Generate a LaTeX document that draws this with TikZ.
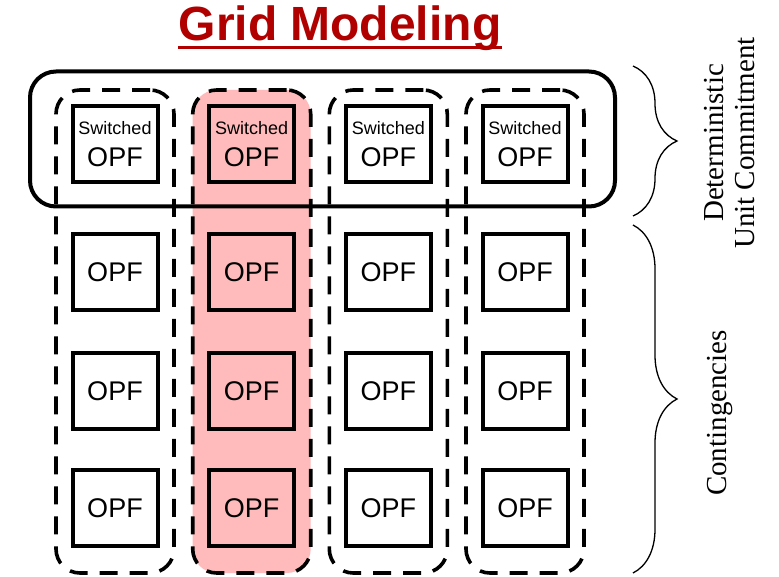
\documentclass[tikz,border=0pt]{standalone}
\usepackage{fontspec}
\setmainfont{Liberation Serif}
\setsansfont{Liberation Sans}
\usetikzlibrary{decorations.pathreplacing}
\definecolor{gridred}{RGB}{176,0,0}
\definecolor{pinkfill}{RGB}{255,187,187}
\begin{document}
\begin{tikzpicture}
  [x=1pt,y=-1pt,every node/.style={inner sep=0pt},
   colbox/.style={draw,line width=3.6pt,dash pattern=on 18pt off 12pt,rounded corners=24pt,minimum width=118pt,minimum height=483pt},
   ucbox/.style={draw,line width=4pt,rounded corners=26pt,minimum width=585pt,minimum height=135pt},
   opfbox/.style={draw,line width=4pt,minimum width=85pt,minimum height=76pt,font=\fontsize{27}{32}\sffamily,align=center},
   brc/.style={decorate,decoration={brace,amplitude=44pt},line width=1.3pt},
   sidetext/.style={rotate=90,anchor=north,align=center,font=\fontsize{29}{31}\selectfont}]
\useasboundingbox (0,0) rectangle (779,577);
  \node[anchor=base,font=\fontsize{48}{56}\sffamily\bfseries,text=gridred] (title) at (340,41) {Grid Modeling};
  \draw[gridred,line width=3pt] ([yshift=-7pt]title.base west) -- ([yshift=-7pt]title.base east);

  % columns, one per case
  \foreach \c/\x/\f in {1/115/none,2/251.7/pinkfill,3/388.3/none,4/525/none}
    \node[colbox,fill=\f] (col\c) at (\x,331.5) {};

  \node[ucbox] (uc) at (322.5,139) {};

  \foreach \c/\x/\f in {1/115/none,2/251.7/pinkfill,3/388.3/none,4/525/none}{
    \node[opfbox,fill=\f] (b\c1) at (\x,144) {{\fontsize{18}{22}\selectfont Switched}\\OPF};
    \foreach \r/\y in {2/272,3/391,4/508}
      \node[opfbox,fill=\f] (b\c\r) at (\x,\y) {OPF};
  }

  \coordinate (ub1) at (633,66);
  \coordinate (ub2) at (633,216);
  \coordinate (lb1) at (633,225);
  \coordinate (lb2) at (633,573);
  \draw[brc] (ub1) -- (ub2);
  \draw[brc] (lb1) -- (lb2);

  \node[sidetext] (uclabel) at (704.5,143) {Deterministic\\Unit Commitment};
  \node[sidetext] (ctlabel) at (707,413) {Contingencies};
\end{tikzpicture}
\end{document}
